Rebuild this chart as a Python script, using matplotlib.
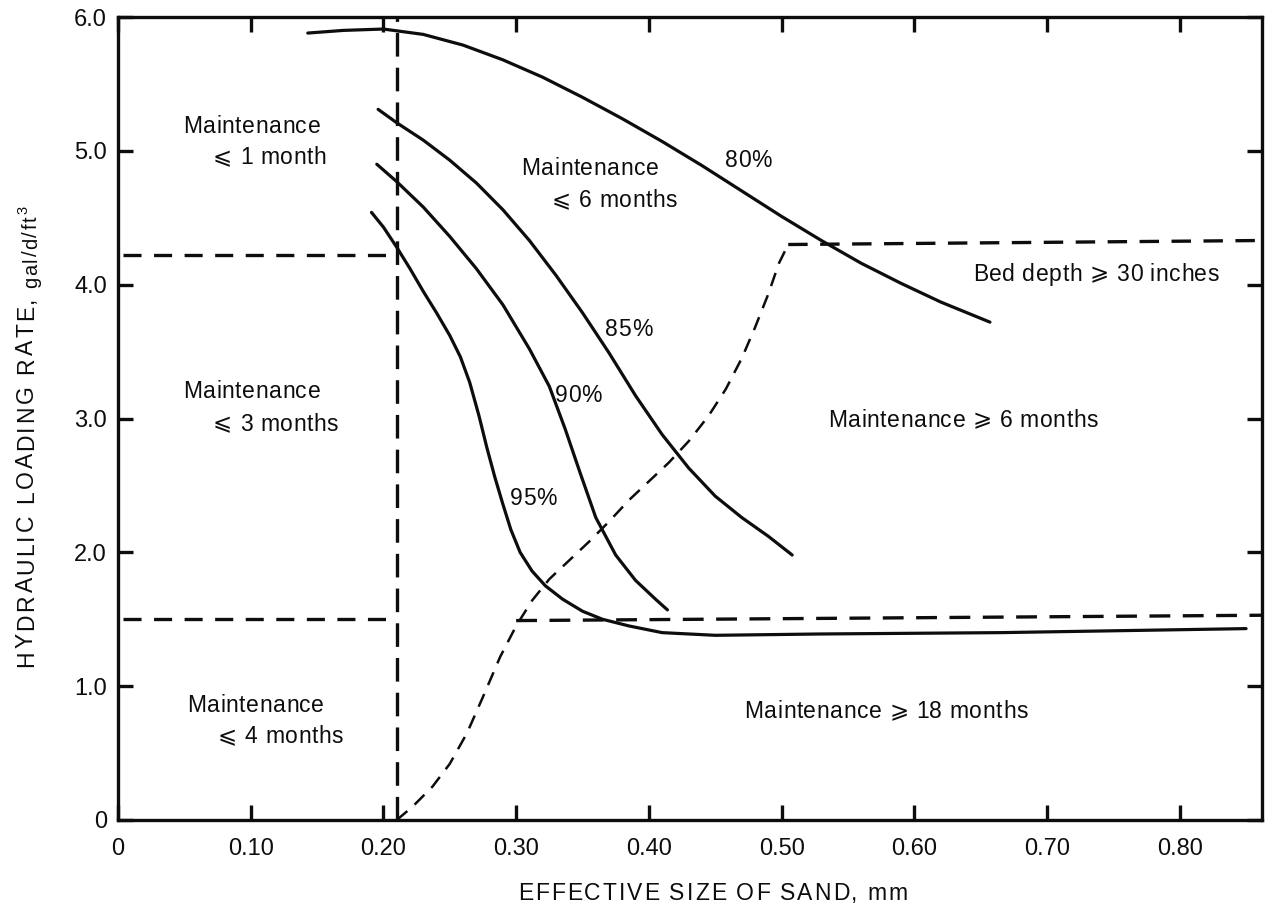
import matplotlib
matplotlib.use("Agg")
import matplotlib.pyplot as plt
from matplotlib import font_manager as fm
from matplotlib.transforms import IdentityTransform

FAMILIES = ["Liberation Sans", "DejaVu Sans"]
plt.rcParams["font.family"] = FAMILIES
plt.rcParams["lines.scale_dashes"] = False

# ---- data -------------------------------------------------------------
x_ticks = [0.0, 0.1, 0.2, 0.3, 0.4, 0.5, 0.6, 0.7, 0.8]
x_tick_labels = ["0", "0.10", "0.20", "0.30", "0.40", "0.50", "0.60", "0.70", "0.80"]
y_ticks = [0, 1, 2, 3, 4, 5, 6]
y_tick_labels = ["0", "1.0", "2.0", "3.0", "4.0", "5.0", "6.0"]

# removal-efficiency curves
eff80_x = [0.143, 0.170, 0.200, 0.230, 0.260, 0.290, 0.320, 0.350, 0.380, 0.410,
           0.440, 0.470, 0.500, 0.530, 0.560, 0.590, 0.620, 0.657]
eff80_y = [5.88, 5.90, 5.91, 5.87, 5.79, 5.68, 5.55, 5.40, 5.24, 5.07,
           4.89, 4.70, 4.51, 4.33, 4.16, 4.01, 3.87, 3.72]
eff85_x = [0.196, 0.210, 0.230, 0.250, 0.270, 0.290, 0.310, 0.330, 0.350, 0.370,
           0.390, 0.410, 0.430, 0.450, 0.470, 0.490, 0.508]
eff85_y = [5.31, 5.21, 5.08, 4.93, 4.76, 4.56, 4.33, 4.07, 3.79, 3.49,
           3.17, 2.88, 2.63, 2.42, 2.26, 2.12, 1.98]
eff90_x = [0.195, 0.210, 0.230, 0.250, 0.270, 0.290, 0.310, 0.325, 0.337, 0.348,
           0.360, 0.375, 0.390, 0.405, 0.414]
eff90_y = [4.90, 4.77, 4.58, 4.36, 4.12, 3.85, 3.52, 3.24, 2.92, 2.60,
           2.26, 1.98, 1.79, 1.65, 1.57]
eff95_x = [0.191, 0.200, 0.210, 0.220, 0.230, 0.240, 0.250, 0.258, 0.265, 0.272,
           0.278, 0.284, 0.290, 0.296, 0.303, 0.312, 0.322, 0.335, 0.350, 0.365,
           0.385, 0.410, 0.450, 0.530, 0.665, 0.850]
eff95_y = [4.54, 4.43, 4.28, 4.12, 3.95, 3.79, 3.62, 3.46, 3.27, 3.02,
           2.78, 2.56, 2.36, 2.17, 2.00, 1.86, 1.75, 1.65, 1.56, 1.50,
           1.45, 1.40, 1.38, 1.39, 1.40, 1.43]

# maintenance-zone boundaries
div_x = [0.21, 0.21]
div_y = [0.0, 6.0]
upper_left_x = [0.004, 0.21]
upper_left_y = [4.22, 4.22]
lower_left_x = [0.004, 0.21]
lower_left_y = [1.50, 1.50]
bed_x = [0.210, 0.222, 0.237, 0.250, 0.263, 0.275, 0.288, 0.300, 0.312, 0.325,
         0.340, 0.355, 0.370, 0.385, 0.400, 0.415, 0.430, 0.445, 0.458, 0.470,
         0.480, 0.490, 0.498, 0.505, 0.862]
bed_y = [0.00, 0.10, 0.25, 0.42, 0.65, 0.92, 1.22, 1.45, 1.64, 1.80,
         1.94, 2.08, 2.23, 2.39, 2.53, 2.67, 2.83, 3.02, 3.22, 3.45,
         3.68, 3.93, 4.16, 4.30, 4.33]
lower_right_x = [0.30, 0.862]
lower_right_y = [1.49, 1.53]

# zone and curve annotations: (text, x, y) at left baseline
annotations = [
    ("Maintenance", 0.049, 5.13), ("\u2a7d 1 month", 0.0716, 4.90),
    ("Maintenance", 0.304, 4.82), ("\u2a7d 6 months", 0.327, 4.58),
    ("80%", 0.457, 4.88),
    ("Bed depth \u2a7e 30 inches", 0.644, 4.03),
    ("85%", 0.367, 3.62),
    ("Maintenance", 0.049, 3.15), ("\u2a7d 3 months", 0.0716, 2.91),
    ("90%", 0.329, 3.12),
    ("Maintenance \u2a7e 6 months", 0.535, 2.94),
    ("95%", 0.295, 2.35),
    ("Maintenance", 0.052, 0.81), ("\u2a7d 4 months", 0.0753, 0.575),
    ("Maintenance \u2a7e 18 months", 0.472, 0.76),
]

# ---- figure -----------------------------------------------------------
DPI = 100
W, H = 1266, 906
fig = plt.figure(figsize=(W / DPI, H / DPI), dpi=DPI, facecolor="white")
ax = fig.add_axes([118 / W, 1 - 820 / H, (1262 - 118) / W, (820 - 17) / H])
ax.set_xlim(0, 0.862)
ax.set_ylim(0, 6.0)

INK = "#0d0d0d"
for s in ax.spines.values():
    s.set_linewidth(2.4)
    s.set_color(INK)

ax.set_xticks(x_ticks)
ax.set_xticklabels(x_tick_labels)
ax.set_yticks(y_ticks)
ax.set_yticklabels(y_tick_labels)
ax.tick_params(direction="in", length=11, width=2.4, color=INK,
               top=True, right=True, labelsize=17, labelcolor=INK)
ax.tick_params(axis="x", pad=13)
ax.tick_params(axis="y", pad=8)

solid = dict(color=INK, lw=2.3, solid_capstyle="round", solid_joinstyle="round")
for xs, ys in [(eff80_x, eff80_y), (eff85_x, eff85_y),
               (eff90_x, eff90_y), (eff95_x, eff95_y)]:
    ax.plot(xs, ys, **solid)

ax.plot(div_x, div_y, color=INK, lw=2.4, dashes=(17, 8))
ax.plot(upper_left_x, upper_left_y, color=INK, lw=2.4, dashes=(13, 9))
ax.plot(lower_left_x, lower_left_y, color=INK, lw=2.4, dashes=(13, 9))
ax.plot(bed_x[:-1], bed_y[:-1], color=INK, lw=1.8, dashes=(10, 7),
        dash_joinstyle="round")
ax.plot(bed_x[-2:], bed_y[-2:], color=INK, lw=2.4, dashes=(14, 9))
ax.plot(lower_right_x, lower_right_y, color=INK, lw=2.4, dashes=(15, 9))

# ---- letter-spaced text -----------------------------------------------
_font_files = [fm.findfont(fm.FontProperties(family=f)) for f in FAMILIES]


def char_advance(ch, size):
    for path in _font_files:
        font = fm.get_font(path)
        if font.get_char_index(ord(ch)):
            font.set_size(size, 72)
            glyph = font.load_char(ord(ch))
            return glyph.linearHoriAdvance / 65536.0
    return 0.5 * size


def tracked_text(x_px, y_px, s, size, tracking=0.0, rotation=0):
    """Draw s from display point (x_px, y_px) on its baseline, with extra
    spacing of `tracking` pixels between characters."""
    pos = 0.0
    for ch in s:
        if rotation == 0:
            X, Y = x_px + pos, y_px
        else:
            X, Y = x_px, y_px + pos
        fig.text(X, Y, ch, transform=IdentityTransform(), fontsize=size,
                 family=FAMILIES, color=INK, rotation=rotation,
                 rotation_mode="anchor", ha="left", va="baseline")
        pos += char_advance(ch, size) * DPI / 72.0 + tracking
    return pos


for text, tx, ty in annotations:
    px, py = ax.transData.transform((tx, ty))
    tracked_text(px, py, text, 16.5, tracking=0.6)

# axis titles
tracked_text(518, H - 900, "EFFECTIVE SIZE OF SAND, mm", 16.5, tracking=1.9)
used = tracked_text(33, H - 667, "HYDRAULIC LOADING RATE,", 16.5, tracking=2.5,
                    rotation=90)
used2 = tracked_text(37, H - 667 + used + 6, "gal/d/ft", 14.5, tracking=1.5,
                     rotation=90)
tracked_text(27, H - 667 + used + 6 + used2 + 1, "3", 10.5, rotation=90)

fig.savefig("out.png", dpi=DPI, facecolor="white")
